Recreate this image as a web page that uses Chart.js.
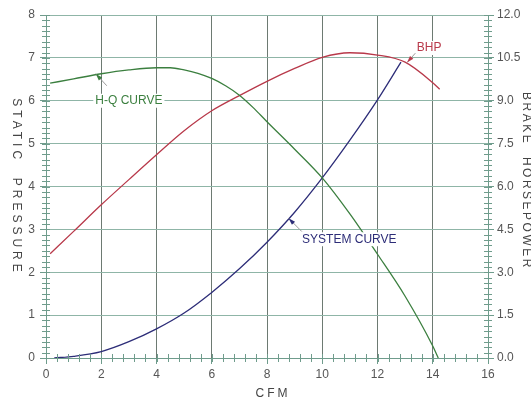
<!DOCTYPE html>
<html>
<head>
<meta charset="utf-8">
<script src="https://cdn.jsdelivr.net/npm/chart.js@4.4.0/dist/chart.umd.min.js"></script>
<style>
  body { margin: 0; background: #fff; }
  canvas { display: block; }
</style>
</head>
<body>
<canvas id="fan-chart" width="531" height="404"></canvas>
<script>
// fan curve data
const xTicks = [0, 2, 4, 6, 8, 10, 12, 14, 16];
const pressureTicks = [0, 1, 2, 3, 4, 5, 6, 7, 8];
const hpTicks = ['0.0', '1.5', '3.0', '4.5', '6.0', '7.5', '9.0', '10.5', '12.0'];

// H-Q curve (static pressure vs CFM)
const hqCfm = [0.15, 1, 2, 3, 4, 4.5, 5, 5.5, 6, 6.5, 7, 7.5, 8, 9, 10, 11, 12, 13, 14, 14.2];
const hqPressure = [6.41, 6.51, 6.63, 6.72, 6.77, 6.77, 6.72, 6.64, 6.52, 6.35, 6.13, 5.84, 5.51, 4.87, 4.20, 3.36, 2.42, 1.44, 0.28, 0];

// brake horsepower (right axis)
const bhpCfm = [0.15, 1, 2, 3, 4, 5, 6, 7, 8, 9, 10, 11, 12, 13, 14, 14.25];
const bhpValues = [3.65, 4.43, 5.36, 6.24, 7.11, 7.95, 8.65, 9.18, 9.68, 10.13, 10.52, 10.68, 10.60, 10.35, 9.63, 9.40];

// system curve
const sysCfm = [0.3, 1, 2, 3, 4, 5, 6, 7, 8, 9, 10, 11, 12, 12.85];
const sysPressure = [0, 0.04, 0.15, 0.38, 0.68, 1.05, 1.53, 2.08, 2.70, 3.40, 4.20, 5.08, 6.02, 6.90];

const GREEN = '#3b7f3f';
const RED = '#b8394a';
const BLUE = '#2d2d78';
const AXIS = '#6f9c8c';
const FONT = "'Liberation Sans', Arial, sans-serif";

function pts(xs, ys) {
    return xs.map((x, i) => ({ x: x, y: ys[i] }));
}

// minor ticks crossing the axis lines
const minorTicks = {
    id: 'minorTicks',
    afterDraw(chart) {
        const ctx = chart.ctx;
        const x = chart.scales.x, y = chart.scales.y, y1 = chart.scales.y1;
        const area = chart.chartArea;
        ctx.save();
        ctx.strokeStyle = AXIS;
        ctx.lineWidth = 1;
        ctx.beginPath();
        for (let v = 0; v <= 8.001; v += 0.125) {
            const py = Math.round(y.getPixelForValue(v)) + 0.5;
            ctx.moveTo(area.left - 4, py);
            ctx.lineTo(area.left + 4, py);
        }
        for (let v = 0; v <= 12.001; v += 0.1875) {
            const py = Math.round(y1.getPixelForValue(v)) + 0.5;
            ctx.moveTo(area.right - 4, py);
            ctx.lineTo(area.right + 4, py);
        }
        for (let v = 0; v <= 16.001; v += 0.4) {
            const px = Math.round(x.getPixelForValue(v)) + 0.5;
            ctx.moveTo(px, area.bottom - 4);
            ctx.lineTo(px, area.bottom + 4);
        }
        ctx.stroke();
        ctx.restore();
    }
};

// curve labels with small leader arrows
const curveLabels = [
    { text: 'H-Q CURVE', at: [3.0, 6.0], from: [2.2, 6.35], to: [1.8, 6.63], color: GREEN },
    { text: 'SYSTEM CURVE', at: [10.98, 2.77], from: [9.26, 2.95], to: [8.78, 3.26], color: BLUE },
    { text: 'BHP', at: [13.87, 7.23], from: [13.37, 7.11], to: [13.07, 6.89], color: RED }
];

const labelPlugin = {
    id: 'curveLabels',
    afterDatasetsDraw(chart) {
        const ctx = chart.ctx;
        const x = chart.scales.x, y = chart.scales.y;
        ctx.save();
        ctx.font = '12px ' + FONT;
        ctx.textAlign = 'center';
        ctx.textBaseline = 'middle';
        curveLabels.forEach(function (l) {
            const tx = x.getPixelForValue(l.at[0]);
            const ty = y.getPixelForValue(l.at[1]);
            const w = ctx.measureText(l.text).width;
            ctx.fillStyle = '#fff';
            ctx.fillRect(tx - w / 2 - 2, ty - 7, w + 4, 14);
            ctx.fillStyle = l.color;
            ctx.fillText(l.text, tx, ty);

            const x0 = x.getPixelForValue(l.from[0]), y0 = y.getPixelForValue(l.from[1]);
            const x1 = x.getPixelForValue(l.to[0]), y1 = y.getPixelForValue(l.to[1]);
            ctx.strokeStyle = '#9a9a9a';
            ctx.lineWidth = 1;
            ctx.beginPath();
            ctx.moveTo(x0, y0);
            ctx.lineTo(x1, y1);
            ctx.stroke();
            // arrow head at the curve
            const a = Math.atan2(y1 - y0, x1 - x0);
            ctx.fillStyle = l.color;
            ctx.beginPath();
            ctx.moveTo(x1, y1);
            ctx.lineTo(x1 - 7 * Math.cos(a) + 2.2 * Math.sin(a), y1 - 7 * Math.sin(a) - 2.2 * Math.cos(a));
            ctx.lineTo(x1 - 7 * Math.cos(a) - 2.2 * Math.sin(a), y1 - 7 * Math.sin(a) + 2.2 * Math.cos(a));
            ctx.closePath();
            ctx.fill();
        });
        ctx.restore();
    }
};

// spaced-out axis titles, both side titles read top to bottom
const axisTitles = {
    id: 'axisTitles',
    afterDraw(chart) {
        const ctx = chart.ctx;
        ctx.save();
        ctx.fillStyle = '#444';
        ctx.font = '12px ' + FONT;
        ctx.textAlign = 'center';
        ctx.textBaseline = 'middle';

        ctx.letterSpacing = '3px';
        ctx.fillText('CFM', 273, 394);

        ctx.save();
        ctx.letterSpacing = '4px';
        ctx.translate(16, 187);
        ctx.rotate(Math.PI / 2);
        ctx.fillText('STATIC  PRESSURE', 0, 0);
        ctx.restore();

        ctx.save();
        ctx.letterSpacing = '2.5px';
        ctx.translate(526, 181);
        ctx.rotate(Math.PI / 2);
        ctx.fillText('BRAKE  HORSEPOWER', 0, 0);
        ctx.restore();

        ctx.restore();
    }
};

const ctx = document.getElementById('fan-chart').getContext('2d');

new Chart(ctx, {
    type: 'line',
    data: {
        datasets: [
            {
                label: 'H-Q CURVE',
                data: pts(hqCfm, hqPressure),
                borderColor: GREEN,
                borderWidth: 1.3,
                yAxisID: 'y'
            },
            {
                label: 'BHP',
                data: pts(bhpCfm, bhpValues),
                borderColor: RED,
                borderWidth: 1.3,
                yAxisID: 'y1'
            },
            {
                label: 'SYSTEM CURVE',
                data: pts(sysCfm, sysPressure),
                borderColor: BLUE,
                borderWidth: 1.3,
                yAxisID: 'y'
            }
        ]
    },
    options: {
        responsive: false,
        animation: false,
        layout: { padding: { top: 15, left: 0, right: 0, bottom: 0 } },
        elements: {
            point: { radius: 0 },
            line: { cubicInterpolationMode: 'monotone', fill: false }
        },
        plugins: {
            legend: { display: false },
            tooltip: { enabled: false }
        },
        scales: {
            x: {
                type: 'linear',
                min: 0,
                max: 16,
                afterBuildTicks: function (scale) {
                    scale.ticks = xTicks.map(v => ({ value: v }));
                },
                afterFit: function (scale) { scale.height = 46; },
                grid: { color: '#6d7a72', tickColor: AXIS, tickLength: 6 },
                border: { color: AXIS },
                ticks: { color: '#555', padding: 3, font: { family: FONT, size: 12 } }
            },
            y: {
                position: 'left',
                min: 0,
                max: 8,
                afterBuildTicks: function (scale) {
                    scale.ticks = pressureTicks.map(v => ({ value: v }));
                },
                afterFit: function (scale) { scale.width = 46; },
                grid: { color: '#8fb5a7', tickColor: AXIS, tickLength: 6 },
                border: { color: AXIS },
                ticks: { color: '#555', padding: 5, font: { family: FONT, size: 12 } }
            },
            y1: {
                position: 'right',
                min: 0,
                max: 12,
                afterBuildTicks: function (scale) {
                    scale.ticks = hpTicks.map(v => ({ value: parseFloat(v) }));
                },
                afterFit: function (scale) { scale.width = 43; },
                grid: { drawOnChartArea: false, tickColor: AXIS, tickLength: 6 },
                border: { color: AXIS },
                ticks: {
                    color: '#555',
                    padding: 3,
                    font: { family: FONT, size: 12 },
                    callback: function (value) { return value.toFixed(1); }
                }
            }
        }
    },
    plugins: [minorTicks, labelPlugin, axisTitles]
});
</script>
</body>
</html>
